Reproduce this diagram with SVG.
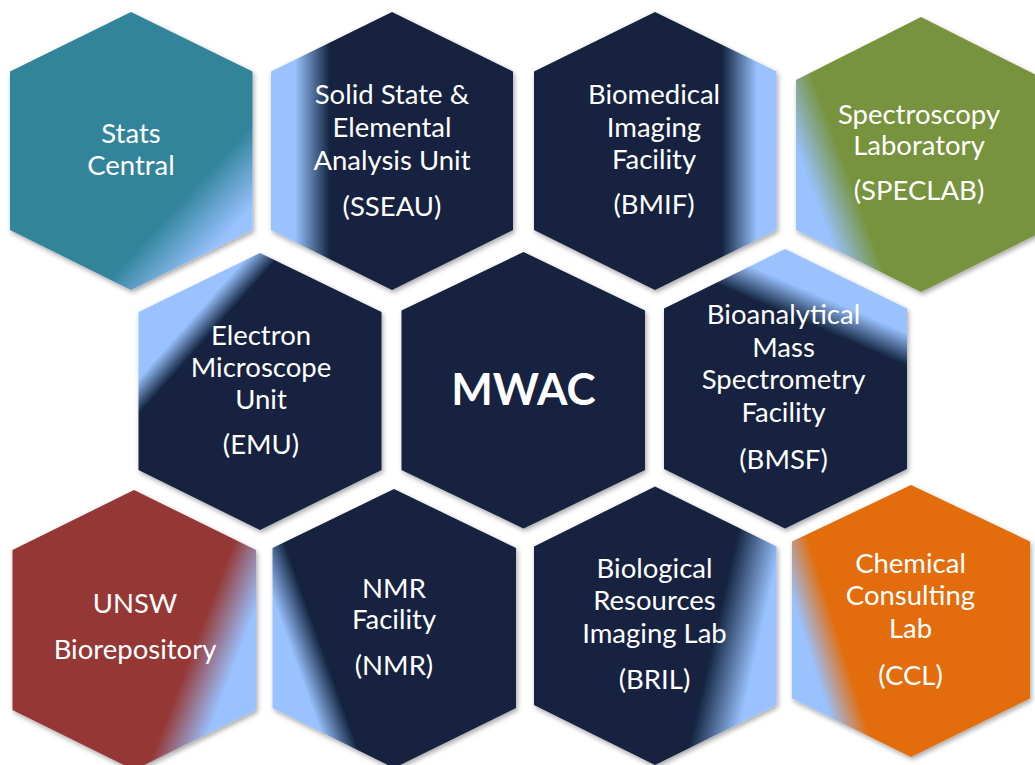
<svg xmlns="http://www.w3.org/2000/svg" width="1035" height="765" viewBox="0 0 1035 765">
<defs>
<filter id="sh" x="-10%" y="-10%" width="120%" height="120%">
<feDropShadow dx="1.5" dy="2.5" stdDeviation="2.5" flood-color="#000" flood-opacity="0.35"/>
</filter>
<linearGradient id="g-stats" gradientUnits="userSpaceOnUse" x1="178" y1="204" x2="220" y2="243"><stop offset="0" stop-color="#31849B"/><stop offset="1" stop-color="#99C2FF"/></linearGradient>
<linearGradient id="g-sseau" gradientUnits="userSpaceOnUse" x1="295" y1="0" x2="330" y2="0"><stop offset="0" stop-color="#99C2FF"/><stop offset="1" stop-color="#12243F"/></linearGradient>
<linearGradient id="g-bmif" gradientUnits="userSpaceOnUse" x1="722" y1="0" x2="757" y2="0"><stop offset="0" stop-color="#12243F"/><stop offset="1" stop-color="#99C2FF"/></linearGradient>
<linearGradient id="g-spec" gradientUnits="userSpaceOnUse" x1="816" y1="202" x2="854" y2="188"><stop offset="0" stop-color="#99C2FF"/><stop offset="1" stop-color="#77933C"/></linearGradient>
<linearGradient id="g-emu" gradientUnits="userSpaceOnUse" x1="188" y1="323" x2="206" y2="339"><stop offset="0" stop-color="#99C2FF"/><stop offset="1" stop-color="#12243F"/></linearGradient>
<linearGradient id="g-bmsf" gradientUnits="userSpaceOnUse" x1="821" y1="296" x2="809" y2="324"><stop offset="0" stop-color="#99C2FF"/><stop offset="1" stop-color="#12243F"/></linearGradient>
<linearGradient id="g-unsw" gradientUnits="userSpaceOnUse" x1="184" y1="672" x2="226" y2="688"><stop offset="0" stop-color="#953735"/><stop offset="1" stop-color="#99C2FF"/></linearGradient>
<linearGradient id="g-nmr" gradientUnits="userSpaceOnUse" x1="301" y1="677" x2="329" y2="667"><stop offset="0" stop-color="#99C2FF"/><stop offset="1" stop-color="#12243F"/></linearGradient>
<linearGradient id="g-bril" gradientUnits="userSpaceOnUse" x1="707" y1="667" x2="751" y2="677"><stop offset="0" stop-color="#12243F"/><stop offset="1" stop-color="#99C2FF"/></linearGradient>
<linearGradient id="g-ccl" gradientUnits="userSpaceOnUse" x1="814" y1="668" x2="846" y2="658"><stop offset="0" stop-color="#99C2FF"/><stop offset="1" stop-color="#E36C0A"/></linearGradient>
</defs>
<style>
.hex{filter:url(#sh);}
.t{font-family:Lato,"Open Sans",sans-serif;font-size:27.5px;fill:#FFFFFF;text-anchor:middle;}
.big{font-family:Lato,"Open Sans",sans-serif;font-size:44px;font-weight:bold;fill:#FFFFFF;text-anchor:middle;}
</style>
<rect width="1035" height="765" fill="#FFFFFF"/>
<g id="connectors"/>
<g id="stats-central">
<polygon class="hex" fill="url(#g-stats)" points="131,12 252.5,71.5 252.5,230 131,290 10,230 10,71.5"/>
<text class="t" x="131" y="143">Stats</text>
<text class="t" x="131" y="175">Central</text>
</g>
<g id="sseau">
<polygon class="hex" fill="url(#g-sseau)" points="392,12 513,71.5 513,230 392,290 271,230 271,71.5"/>
<text class="t" x="392" y="103.5">Solid State &amp;</text>
<text class="t" x="392" y="137">Elemental</text>
<text class="t" x="392" y="170">Analysis Unit</text>
<text class="t" x="392" y="216">(SSEAU)</text>
</g>
<g id="bmif">
<polygon class="hex" fill="url(#g-bmif)" points="655,12 776.5,71.5 776.5,230 655,290 534,230 534,71.5"/>
<text class="t" x="654" y="103.5">Biomedical</text>
<text class="t" x="654" y="137">Imaging</text>
<text class="t" x="654" y="168.5">Facility</text>
<text class="t" x="654" y="213.5">(BMIF)</text>
</g>
<g id="speclab">
<polygon class="hex" fill="url(#g-spec)" points="921,17 1046,80 1046,230 921,292 796,230 796,80"/>
<text class="t" x="919" y="123.5">Spectroscopy</text>
<text class="t" x="919" y="155">Laboratory</text>
<text class="t" x="919" y="200">(SPECLAB)</text>
</g>
<g id="emu">
<polygon class="hex" fill="url(#g-emu)" points="260,253 381.5,312 381.5,470 260,530 138.5,470 138.5,312"/>
<text class="t" x="261" y="344.5">Electron</text>
<text class="t" x="261" y="377">Microscope</text>
<text class="t" x="261" y="408.5">Unit</text>
<text class="t" x="261" y="453.5">(EMU)</text>
</g>
<g id="mwac">
<polygon class="hex" fill="#12243F" points="523.5,252 645,310.5 645,470 523.5,528.5 401.5,470 401.5,310.5"/>
<text class="big" x="523.5" y="405">MWAC</text>
</g>
<g id="bmsf">
<polygon class="hex" fill="url(#g-bmsf)" points="785,249 907,308.5 907,469 785,528.5 664,469 664,308.5"/>
<text class="t" x="783.5" y="323.5">Bioanalytical</text>
<text class="t" x="783.5" y="357">Mass</text>
<text class="t" x="783.5" y="388.5">Spectrometry</text>
<text class="t" x="783.5" y="422">Facility</text>
<text class="t" x="783.5" y="468.5">(BMSF)</text>
</g>
<g id="unsw-biorepository">
<polygon class="hex" fill="url(#g-unsw)" points="134,490 256,550 256,710 134,770 12.5,710 12.5,550"/>
<text class="t" x="135" y="613">UNSW</text>
<text class="t" x="135" y="659">Biorepository</text>
</g>
<g id="nmr">
<polygon class="hex" fill="url(#g-nmr)" points="394,489 516,548 516,708 394,768 272.5,708 272.5,548"/>
<text class="t" x="394" y="597.5">NMR</text>
<text class="t" x="394" y="629">Facility</text>
<text class="t" x="394" y="675">(NMR)</text>
</g>
<g id="bril">
<polygon class="hex" fill="url(#g-bril)" points="655,486.5 776.5,546.5 776.5,705 655,765 534,705 534,546.5"/>
<text class="t" x="654.5" y="577.5">Biological</text>
<text class="t" x="654.5" y="610">Resources</text>
<text class="t" x="654.5" y="643">Imaging Lab</text>
<text class="t" x="654.5" y="688.5">(BRIL)</text>
</g>
<g id="ccl">
<polygon class="hex" fill="url(#g-ccl)" points="911,485 1030,541.5 1030,698.5 911,757 792,698.5 792,541.5"/>
<text class="t" x="910.5" y="572.5">Chemical</text>
<text class="t" x="910.5" y="605">Consulting</text>
<text class="t" x="910.5" y="637.5">Lab</text>
<text class="t" x="910.5" y="685">(CCL)</text>
</g>
</svg>
